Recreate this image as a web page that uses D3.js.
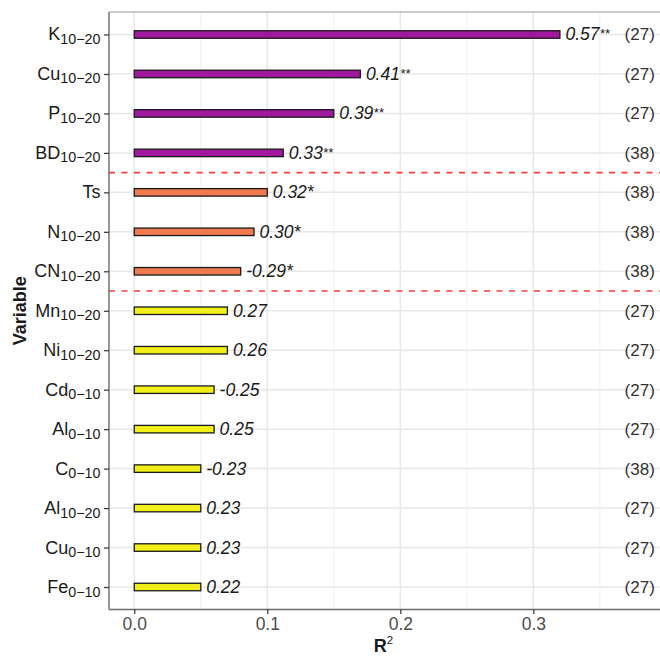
<!DOCTYPE html>
<html>
<head>
<meta charset="utf-8">
<script src="https://cdn.jsdelivr.net/npm/d3@7"></script>
<style>
  html, body { margin: 0; padding: 0; background: #fff; }
  svg { display: block; font-family: "Liberation Sans", Arial, sans-serif; }
</style>
</head>
<body>
<div id="chart"></div>
<script>
// ---- data ----
const varNames   = ["K", "Cu", "P", "BD", "Ts", "N", "CN", "Mn", "Ni", "Cd", "Al", "C", "Al", "Cu", "Fe"];
const varDepths  = ["10−20", "10−20", "10−20", "10−20", "", "10−20", "10−20", "10−20", "10−20", "0−10", "0−10", "0−10", "10−20", "0−10", "0−10"];
const r2Values   = [0.32, 0.17, 0.15, 0.112, 0.10, 0.09, 0.08, 0.07, 0.07, 0.06, 0.06, 0.05, 0.05, 0.05, 0.05];
const rLabels    = ["0.57", "0.41", "0.39", "0.33", "0.32", "0.30", "-0.29", "0.27", "0.26", "-0.25", "0.25", "-0.23", "0.23", "0.23", "0.22"];
const sigStars   = ["**", "**", "**", "**", "*", "*", "*", "", "", "", "", "", "", "", ""];
const nObs       = [27, 27, 27, 38, 38, 38, 38, 27, 27, 27, 27, 38, 27, 27, 27];
const groups     = ["p<0.01", "p<0.01", "p<0.01", "p<0.01", "p<0.05", "p<0.05", "p<0.05", "ns", "ns", "ns", "ns", "ns", "ns", "ns", "ns"];
const groupNames = ["p<0.01", "p<0.05", "ns"];
const groupColors = ["#A0189E", "#EE7A4E", "#F0F018"];
const xTicks     = [0.0, 0.1, 0.2, 0.3];
const xMinor     = [0.05, 0.15, 0.25, 0.35];
const countX     = 0.38;

const rows = varNames.map((v, i) => ({
  key: i, name: v, depth: varDepths[i], r2: r2Values[i], r: rLabels[i],
  sig: sigStars[i], n: nObs[i], group: groups[i]
}));

// ---- layout ----
const W = 660, H = 661;
const panel = { left: 109, top: 12, bottom: 609.5, right: 665 };

const svg = d3.select("#chart").append("svg").attr("width", W).attr("height", H);

const x = d3.scaleLinear().domain([-0.019, 0.399]).range([panel.left, panel.right]);
const y = d3.scalePoint().domain(rows.map(d => d.key)).range([panel.top, panel.bottom]).padding(0.57);
const color = d3.scaleOrdinal().domain(groupNames).range(groupColors);

const g = svg.append("g");

// panel background
g.append("rect").attr("x", panel.left).attr("y", panel.top)
  .attr("width", W - panel.left).attr("height", panel.bottom - panel.top).attr("fill", "#fff");

// minor grid
g.selectAll(".vminor").data(xMinor).join("line")
  .attr("x1", d => x(d)).attr("x2", d => x(d))
  .attr("y1", panel.top).attr("y2", panel.bottom)
  .attr("stroke", "#F0F0F0").attr("stroke-width", 1);

// major grid
g.selectAll(".vmajor").data(xTicks).join("line")
  .attr("x1", d => x(d)).attr("x2", d => x(d))
  .attr("y1", panel.top).attr("y2", panel.bottom)
  .attr("stroke", "#E8E8E8").attr("stroke-width", 1.5);
g.selectAll(".hmajor").data(rows).join("line")
  .attr("x1", panel.left).attr("x2", W)
  .attr("y1", d => y(d.key)).attr("y2", d => y(d.key))
  .attr("stroke", "#E8E8E8").attr("stroke-width", 1.5);

// bars
const barH = 7.5;
g.selectAll(".bar").data(rows).join("rect")
  .attr("x", x(0)).attr("y", d => y(d.key) - barH / 2)
  .attr("width", d => x(d.r2) - x(0)).attr("height", barH)
  .attr("fill", d => color(d.group))
  .attr("stroke", "#1a1a1a").attr("stroke-width", 1.3);

// group separators (dashed)
const seps = [];
for (let i = 1; i < rows.length; i++) {
  if (rows[i].group !== rows[i - 1].group) seps.push((y(rows[i].key) + y(rows[i - 1].key)) / 2);
}
g.selectAll(".sep").data(seps).join("line")
  .attr("x1", panel.left).attr("x2", W)
  .attr("y1", d => d).attr("y2", d => d)
  .attr("stroke", "#FF3B3B").attr("stroke-width", 1.6)
  .attr("stroke-dasharray", "6,6.5");

// r labels
const rl = g.selectAll(".rlab").data(rows).join("text")
  .attr("x", d => x(d.r2) + 5.5).attr("y", d => y(d.key) + 6)
  .attr("font-size", 17.5).attr("font-style", "italic").attr("fill", "#1a1a1a");
rl.append("tspan").text(d => d.r);
rl.append("tspan").text(d => d.sig)
  .attr("font-size", d => d.sig === "**" ? 13 : 17.5)
  .attr("dy", d => d.sig === "**" ? -2 : 0);

// counts
g.selectAll(".cnt").data(rows).join("text")
  .attr("x", x(countX)).attr("y", d => y(d.key) + 6)
  .attr("text-anchor", "middle").attr("font-size", 17).attr("fill", "#333")
  .text(d => `(${d.n})`);

// axes lines
g.append("line").attr("x1", panel.left).attr("x2", W).attr("y1", panel.top).attr("y2", panel.top)
  .attr("stroke", "#9a9a9a").attr("stroke-width", 1.2);
g.append("line").attr("x1", panel.left).attr("x2", panel.left).attr("y1", panel.top).attr("y2", panel.bottom)
  .attr("stroke", "#6a6a6a").attr("stroke-width", 1.4);
g.append("line").attr("x1", panel.left).attr("x2", W).attr("y1", panel.bottom).attr("y2", panel.bottom)
  .attr("stroke", "#6a6a6a").attr("stroke-width", 1.4);

// x axis
const xAxis = d3.axisBottom(x).tickValues(xTicks).tickFormat(d3.format(".1f")).tickSize(4.5).tickPadding(4);
const xa = svg.append("g").attr("transform", `translate(0,${panel.bottom})`).call(xAxis);
xa.select(".domain").remove();
xa.selectAll(".tick line").attr("stroke", "#333").attr("stroke-width", 1.2);
xa.selectAll(".tick text").attr("font-size", 17.5).attr("fill", "#4D4D4D")
  .attr("font-family", "'Liberation Sans', Arial, sans-serif");

// y axis (custom labels with subscripts)
const yAxis = d3.axisLeft(y).tickSize(5).tickPadding(3).tickFormat("");
const ya = svg.append("g").attr("transform", `translate(${panel.left},0)`).call(yAxis);
ya.select(".domain").remove();
ya.selectAll(".tick line").attr("stroke", "#333").attr("stroke-width", 1.2);

const yl = svg.selectAll(".ylab").data(rows).join("text")
  .attr("x", panel.left - 8.5).attr("y", d => y(d.key) + 6)
  .attr("text-anchor", "end").attr("fill", "#1a1a1a").attr("font-size", 18);
yl.append("tspan").text(d => d.name);
yl.append("tspan").text(d => d.depth).attr("font-size", 14.3).attr("dy", 3.5);

// axis titles
const xt = svg.append("text").attr("x", (panel.left + 658) / 2).attr("y", 652)
  .attr("text-anchor", "middle").attr("font-weight", "bold").attr("font-size", 18).attr("fill", "#1a1a1a");
xt.append("tspan").text("R");
xt.append("tspan").text("2").attr("font-size", 11.5).attr("dy", -8.5).attr("font-weight", "normal");

svg.append("text").attr("transform", `translate(26,${(panel.top + panel.bottom) / 2}) rotate(-90)`)
  .attr("text-anchor", "middle").attr("font-weight", "bold").attr("font-size", 18).attr("fill", "#1a1a1a")
  .text("Variable");
</script>
</body>
</html>
